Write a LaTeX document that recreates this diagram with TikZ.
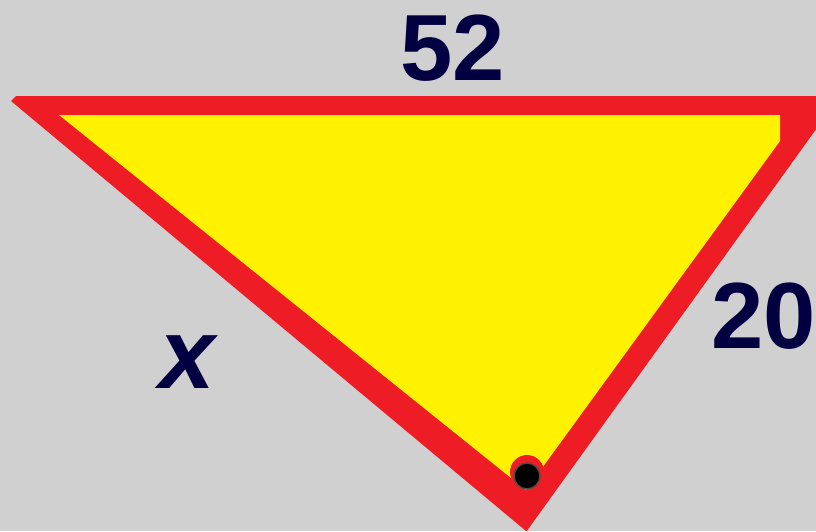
\documentclass[tikz,border=0pt]{standalone}
\usepackage{fontspec}
\setmainfont{Liberation Sans}
\definecolor{bg}{RGB}{208,208,208}
\definecolor{rimred}{RGB}{238,29,37}
\definecolor{fillyellow}{RGB}{255,242,0}
\definecolor{labelnavy}{RGB}{2,0,64}
\definecolor{dotrim}{RGB}{90,74,68}
\tikzset{
  lbl/.style={inner sep=0pt, text=labelnavy, font=\fontsize{94}{94}\selectfont\bfseries},
  varlbl/.style={inner sep=0pt, text=labelnavy, font=\fontsize{100}{100}\selectfont\bfseries\itshape}
}
\begin{document}
\begin{tikzpicture}[x=1pt,y=-1pt]
  \fill[bg] (0,0) rectangle (816,531);
  \useasboundingbox (0,0) rectangle (816,531);
  % outer red band
  \fill[rimred] (11,101) -- (16,96) -- (840,96) -- (526.5,531.4) -- cycle;
  % inner yellow face
  \fill[fillyellow] (59,115) -- (780,115) -- (780,141) -- (526,490) -- cycle;
  % right-angle dot
  \fill[rimred] (527,472) circle[radius=17];
  \fill[black, draw=dotrim, line width=1.5pt] (527,476) circle[radius=13];
  % labels
  \node[lbl] (top) at (453,48.5) {52};
  \node[lbl] (right) at (763.3,316.3) {20};
  \node[varlbl] (left) at (187,362) {x};
\end{tikzpicture}
\end{document}
